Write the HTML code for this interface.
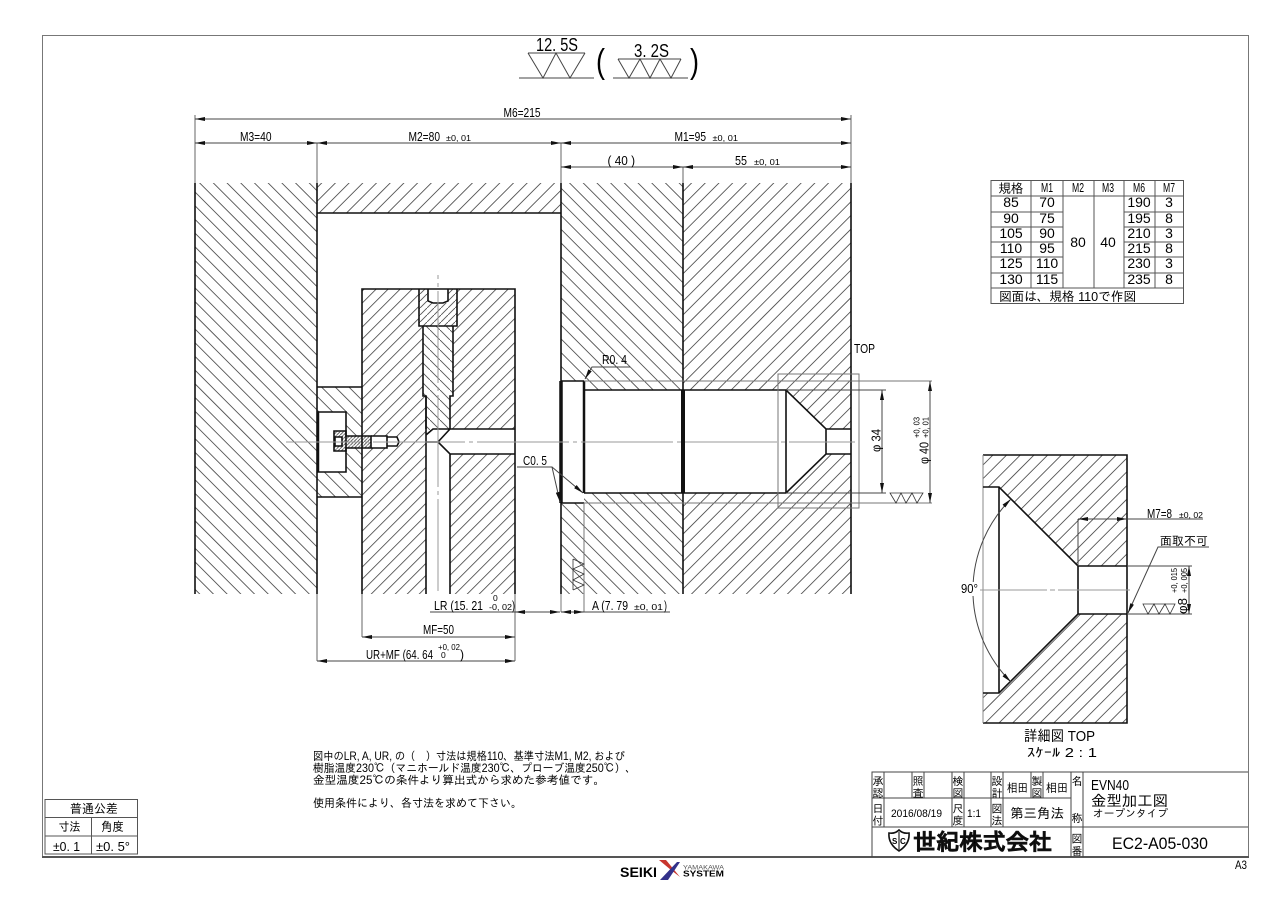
<!DOCTYPE html>
<html lang="ja">
<head>
<meta charset="utf-8">
<title>EC2-A05-030</title>
<style>
html,body{margin:0;padding:0;background:#fff;width:1280px;height:905px;overflow:hidden}
svg{display:block}
text{font-family:"Liberation Sans","IPAGothic","Noto Sans CJK JP",sans-serif;fill:#000}
.k{font-size:11px}
.d{font-size:13px}
.s{font-size:8.5px}
.o{fill:none;stroke:#111;stroke-width:1.6}
.t{fill:none;stroke:#333;stroke-width:.8}
.g{fill:none;stroke:#777;stroke-width:1}
.c{fill:none;stroke:#999;stroke-width:1;stroke-dasharray:92 4 4 4}
.m{fill:none;stroke:#444;stroke-width:1}
.f{fill:none;stroke:#666;stroke-width:1}
</style>
</head>
<body>
<svg width="1280" height="905" viewBox="0 0 1280 905" xmlns="http://www.w3.org/2000/svg">
<defs>
<marker id="a" markerWidth="10" markerHeight="4" refX="10" refY="2" orient="auto-start-reverse" markerUnits="userSpaceOnUse"><path d="M0 0L10 2 0 4z" fill="#111"/></marker>
<clipPath id="cb"><rect x="195" y="183" width="122" height="411"/><rect x="561" y="183" width="122" height="411"/><rect x="317" y="387" width="45" height="110"/></clipPath>
<clipPath id="cf"><rect x="317" y="183" width="244" height="30"/><rect x="683" y="183" width="168" height="411"/></clipPath>
<clipPath id="cd"><rect x="983" y="455" width="144" height="268"/></clipPath>
<clipPath id="ci"><rect x="362" y="289" width="153" height="305"/></clipPath>
<pattern id="hs" width="10" height="10" patternUnits="userSpaceOnUse"><path d="M-1-1L11 11" stroke="#555" stroke-width=".9"/></pattern>
<pattern id="hp" width="7" height="7" patternUnits="userSpaceOnUse"><path d="M8-1L-1 8" stroke="#555" stroke-width=".9"/></pattern>
<pattern id="hv" width="3.4" height="3.4" patternUnits="userSpaceOnUse"><path d="M4.4-1L-1 4.4" stroke="#444" stroke-width=".8"/></pattern>
</defs>

<rect width="1280" height="905" fill="#fff"/>
<!-- frame -->
<path d="M42.500 857V35.500H1248.500V857" fill="none" stroke="#777" stroke-width="1"/>
<path d="M42 857H1249" stroke="#555" stroke-width="2"/>

<!-- main hatches -->
<line x1="0" y1="408.64" x2="544.3" y2="-135.66" stroke="#555" stroke-width="1600" stroke-dasharray=".9 8.787" clip-path="url(#cb)"/>
<line x1="176.68" y1="176.68" x2="950" y2="950" stroke="#555" stroke-width="1600" stroke-dasharray=".9 8.787" clip-path="url(#cf)"/>
<line x1="176.68" y1="176.68" x2="950" y2="950" stroke="#555" stroke-width="1600" stroke-dasharray=".9 8.787" stroke-dashoffset="1.41" clip-path="url(#cd)"/>
<line x1="170.33" y1="170.33" x2="700" y2="700" stroke="#555" stroke-width="1600" stroke-dasharray=".9 7.585" clip-path="url(#ci)"/>

<!-- inner white / sub parts -->
<rect x="419" y="289" width="38" height="37" fill="#fff"/>
<rect x="419" y="289" width="38" height="37" fill="url(#hp)"/>
<rect x="428" y="289" width="20" height="14" fill="#fff"/>
<polygon points="423,326 453,326 453,396 450,396 450,429 433,429 426,435 426,396 423,396" fill="#fff"/>
<polygon points="423,326 453,326 453,396 450,396 450,429 433,429 426,435 426,396 423,396" fill="url(#hs)"/>
<polygon points="426,435 433,429 515,429 515,454 450,454 438,442 426,442" fill="#fff"/>
<polygon points="426,442 438,442 450,454 450,594 426,594" fill="#fff"/>
<rect x="318" y="412" width="28" height="60" fill="#fff"/>
<rect x="334" y="431" width="12" height="20" fill="#fff"/>
<rect x="334" y="431" width="12" height="20" fill="url(#hv)"/>
<rect x="346" y="436" width="25" height="12" fill="#fff"/>
<rect x="346" y="436" width="25" height="12" fill="url(#hv)"/>
<polygon points="371,436 387,436 387,437 397,437 399,442 397,446 387,446 387,448 371,448" fill="#fff"/>
<rect x="335" y="437" width="7" height="9" fill="#fff"/>

<!-- right bore -->
<rect x="561" y="381" width="23" height="122" fill="#fff"/>
<polygon points="584,390 786,390 826,429 851,429 851,454 826,454 786,493 584,493" fill="#fff"/>

<!-- outlines -->
<path class="o" d="M195 183V594M317 183V594M561 183V594M683 183V594M851 183V594"/>
<path class="o" d="M317 213H561"/>
<path class="o" d="M362 594V289H515V594"/>
<path class="o" d="M419 289V326H457V289M428 289V301L433 303H443L448 301V289"/>
<path class="o" d="M423 326V396H426V429M453 326V396H450V429"/>
<path class="o" d="M426 396V435L433 429H515M450 429L438 442L450 454H515M426 442H438M426 435V594M450 454V594"/>
<path class="o" d="M317 387H362M317 497H362M346 412H318V472H346Z"/>
<path class="o" d="M334 431H346V436H371V448H346V451H334Z" stroke-width="1.300"/>
<path class="o" d="M335 437H342V446H335ZM371 436H387V448H371M387 437H397L399 442L397 446H387" stroke-width="1"/>
<path d="M318 412V472" stroke="#111" stroke-width="2.500"/>

<path d="M561 381V503" stroke="#111" stroke-width="3.500"/>
<path d="M584 381V493" stroke="#111" stroke-width="2.500"/>
<path d="M683 390V493" stroke="#111" stroke-width="4"/>
<path class="o" d="M561 381H584M561 503H584" stroke-width="2"/>
<path class="o" d="M584 390H786L826 429H851M584 493H786L826 454H851M786 390V493M826 429V454" stroke-width="1.800"/>
<path class="g" d="M584 381H932M584 503H932M778 374H859V508H778Z"/>
<path class="m" d="M786 390H886M786 493H886"/>
<path class="g" d="M584 503V612M561 594V612"/>

<!-- centre lines -->
<path class="c" d="M286 442H855" stroke-dashoffset="17"/>
<path class="c" d="M438 275V594" stroke-dashoffset="88"/>

<!-- top surface marks -->
<text x="536" y="51" font-size="18" textLength="42" lengthAdjust="spacingAndGlyphs">12. 5S</text>
<path class="m" d="M519 78H594M528 53H585M528 53L543 78L556 53L570 78L585 53"/>
<text x="634" y="57" font-size="18" textLength="35" lengthAdjust="spacingAndGlyphs">3. 2S</text>
<path class="m" d="M613 78H688M618 59H681M618 59L629 78L640 59L650 78L660 59L671 78L681 59"/>
<text x="596" y="73" font-size="34" textLength="9" lengthAdjust="spacingAndGlyphs">(</text>
<text x="690" y="73" font-size="34" textLength="9" lengthAdjust="spacingAndGlyphs">)</text>

<!-- dimensions top -->
<path class="f" d="M195 115V183M851 115V183M317 143V183M561 143V183M683 167V183"/>
<path class="m" d="M195 119H851" marker-start="url(#a)" marker-end="url(#a)"/>
<path class="m" d="M195 143H317" marker-start="url(#a)" marker-end="url(#a)"/>
<path class="m" d="M317 143H561" marker-start="url(#a)" marker-end="url(#a)"/>
<path class="m" d="M561 143H851" marker-start="url(#a)" marker-end="url(#a)"/>
<path class="m" d="M561 167H683" marker-start="url(#a)" marker-end="url(#a)"/>
<path class="m" d="M683 167H851" marker-start="url(#a)" marker-end="url(#a)"/>
<text class="d" x="503.500" y="117" textLength="37" lengthAdjust="spacingAndGlyphs">M6=215</text>
<text class="d" x="240" y="141" textLength="31.500" lengthAdjust="spacingAndGlyphs">M3=40</text>
<text class="d" x="408.500" y="141" textLength="31.500" lengthAdjust="spacingAndGlyphs">M2=80</text>
<text class="s" x="446" y="141" textLength="25" lengthAdjust="spacingAndGlyphs">±0, 01</text>
<text class="d" x="674.500" y="141" textLength="31.500" lengthAdjust="spacingAndGlyphs">M1=95</text>
<text class="s" x="712.500" y="141" textLength="25.500" lengthAdjust="spacingAndGlyphs">±0, 01</text>
<text class="d" x="607.500" y="165" textLength="27.500" lengthAdjust="spacingAndGlyphs">( 40 )</text>
<text class="d" x="735" y="165" textLength="12" lengthAdjust="spacingAndGlyphs">55</text>
<text class="s" x="754" y="165" textLength="26" lengthAdjust="spacingAndGlyphs">±0, 01</text>

<!-- table -->
<path d="M991 180.500H1183.500V303.500H991ZM991 196H1183.500M991 212H1063M1124 212H1183.500M991 227H1063M1124 227H1183.500M991 242H1063M1124 242H1183.500M991 257H1063M1124 257H1183.500M991 273H1063M1124 273H1183.500M991 288H1183.500M1031 180V288M1063 180V288M1094 180V288M1124 180V288M1155 180V288" fill="none" stroke="#555" stroke-width="1"/>
<g text-anchor="middle" font-size="14">
<text x="1011" y="193" font-size="13" textLength="25" lengthAdjust="spacingAndGlyphs">規格</text><text x="1047" y="192" font-size="13" textLength="12" lengthAdjust="spacingAndGlyphs">M1</text><text x="1078" y="192" font-size="13" textLength="12" lengthAdjust="spacingAndGlyphs">M2</text><text x="1108" y="192" font-size="13" textLength="12" lengthAdjust="spacingAndGlyphs">M3</text><text x="1139" y="192" font-size="13" textLength="12" lengthAdjust="spacingAndGlyphs">M6</text><text x="1169" y="192" font-size="13" textLength="12" lengthAdjust="spacingAndGlyphs">M7</text>
<text x="1011" y="207">85</text><text x="1047" y="207">70</text><text x="1139" y="207">190</text><text x="1169" y="207">3</text>
<text x="1011" y="223">90</text><text x="1047" y="223">75</text><text x="1139" y="223">195</text><text x="1169" y="223">8</text>
<text x="1011" y="238">105</text><text x="1047" y="238">90</text><text x="1139" y="238">210</text><text x="1169" y="238">3</text>
<text x="1011" y="253">110</text><text x="1047" y="253">95</text><text x="1139" y="253">215</text><text x="1169" y="253">8</text>
<text x="1011" y="268">125</text><text x="1047" y="268">110</text><text x="1139" y="268">230</text><text x="1169" y="268">3</text>
<text x="1011" y="284">130</text><text x="1047" y="284">115</text><text x="1139" y="284">235</text><text x="1169" y="284">8</text>
<text x="1078" y="247">80</text><text x="1108" y="247">40</text>
</g>
<text x="999" y="301" font-size="13" textLength="137" lengthAdjust="spacingAndGlyphs">図面は、規格 110で作図</text>

<!-- leaders right -->
<text class="d" x="854" y="353" font-size="14" textLength="21" lengthAdjust="spacingAndGlyphs">TOP</text>
<text class="d" x="602" y="364" textLength="25" lengthAdjust="spacingAndGlyphs">R0. 4</text>
<path class="m" d="M630 367H592L585 379" marker-end="url(#a)"/>
<text class="d" x="523" y="465" textLength="24" lengthAdjust="spacingAndGlyphs">C0. 5</text>
<path class="m" d="M517 467H552L560 502" marker-end="url(#a)"/>
<path class="m" d="M552 467L583 493" marker-end="url(#a)"/>

<path class="m" d="M882 390V493" marker-start="url(#a)" marker-end="url(#a)"/>
<path class="m" d="M930 381V503" marker-start="url(#a)" marker-end="url(#a)"/>
<path class="t" d="M890 493L896 503L901 493L906 503L912 493L917 503L923 493Z"/>
<text class="d" transform="translate(880.500 452) rotate(-90)" textLength="23" lengthAdjust="spacingAndGlyphs">φ 34</text>
<text class="d" transform="translate(928.500 464) rotate(-90)" textLength="22" lengthAdjust="spacingAndGlyphs">φ 40</text>
<text class="s" transform="translate(919.500 438) rotate(-90)" textLength="21" lengthAdjust="spacingAndGlyphs">+0, 03</text>
<text class="s" transform="translate(928.500 438) rotate(-90)" textLength="21" lengthAdjust="spacingAndGlyphs">+0, 01</text>

<!-- rotated surface symbol -->
<path class="t" d="M573 559V590M573 559L584 564L573 569L584 574L573 580L584 585L573 590"/>

<!-- bottom dims -->
<path class="f" d="M317 594V661M362 594V637M515 594V661"/>
<path class="m" d="M430 612H515" />
<path class="m" d="M515 612H560" marker-start="url(#a)" marker-end="url(#a)"/>
<path class="m" d="M561 612H584" marker-start="url(#a)" marker-end="url(#a)"/>
<path class="m" d="M584 612H670"/>
<path class="m" d="M362 637H515" marker-start="url(#a)" marker-end="url(#a)"/>
<path class="m" d="M317 661H515" marker-start="url(#a)" marker-end="url(#a)"/>
<text class="d" x="434" y="610" textLength="49" lengthAdjust="spacingAndGlyphs">LR (15. 21</text>
<text class="s" x="493" y="601">0</text>
<text class="s" x="489" y="610" textLength="23" lengthAdjust="spacingAndGlyphs">-0, 02</text>
<text class="d" x="512" y="610" textLength="3" lengthAdjust="spacingAndGlyphs">)</text>
<text class="d" x="592" y="610" textLength="36" lengthAdjust="spacingAndGlyphs">A (7. 79</text>
<text class="s" x="634" y="610" textLength="29" lengthAdjust="spacingAndGlyphs">±0, 01</text>
<text class="d" x="664" y="610" textLength="3" lengthAdjust="spacingAndGlyphs">)</text>
<text class="d" x="423" y="634" textLength="31" lengthAdjust="spacingAndGlyphs">MF=50</text>
<text class="d" x="366" y="659" textLength="67" lengthAdjust="spacingAndGlyphs">UR+MF (64. 64</text>
<text class="s" x="438" y="650" textLength="22" lengthAdjust="spacingAndGlyphs">+0, 02</text>
<text class="s" x="441" y="658">0</text>
<text class="d" x="460" y="659" textLength="4" lengthAdjust="spacingAndGlyphs">)</text>

<!-- detail view -->
<polygon points="983,487 999,487 1078,566 1127,566 1127,614 1078,614 999,693 983,693" fill="#fff"/>
<path class="o" d="M983 455H1127V723H983"/>
<path d="M983 455V723" stroke="#888" stroke-width="1"/>
<path class="o" d="M983 487H999L1078 566H1127M983 693H999L1078 614H1127M999 487V693M1078 566V614" stroke-width="1.800"/>
<path class="c" d="M975 590H1133" style="stroke-dasharray:72 3 5 3"/>
<path class="m" d="M1078 519V566"/>
<path class="m" d="M1078 519H1127" marker-start="url(#a)" marker-end="url(#a)"/>
<path class="m" d="M1127 519H1203"/>
<text class="d" x="1147" y="518" textLength="25" lengthAdjust="spacingAndGlyphs">M7=8</text>
<text class="s" x="1179" y="518" textLength="24" lengthAdjust="spacingAndGlyphs">±0, 02</text>
<text x="1160" y="545" font-size="12" textLength="48" lengthAdjust="spacingAndGlyphs">面取不可</text>
<path class="m" d="M1209 547H1158L1128 613" marker-end="url(#a)"/>
<path class="m" d="M1127 566H1192M1127 614H1192"/>
<path class="m" d="M1189 566V614" marker-start="url(#a)" marker-end="url(#a)"/>
<path class="t" d="M1143 604H1175L1170 614L1165 604L1159 614L1154 604L1148 614Z"/>
<text class="d" transform="translate(1187 614) rotate(-90)" textLength="16" lengthAdjust="spacingAndGlyphs">φ8</text>
<text class="s" transform="translate(1177 593) rotate(-90)" textLength="25" lengthAdjust="spacingAndGlyphs">+0, 015</text>
<text class="s" transform="translate(1187 593) rotate(-90)" textLength="25" lengthAdjust="spacingAndGlyphs">+0, 005</text>
<path class="m" d="M1011 499A129 129 0 0 0 1011 682" marker-start="url(#a)" marker-end="url(#a)"/>
<rect x="960" y="582" width="20" height="14" fill="#fff"/>
<text class="d" x="961" y="593" textLength="17" lengthAdjust="spacingAndGlyphs">90°</text>
<text x="1024" y="741" font-size="15" textLength="71" lengthAdjust="spacingAndGlyphs">詳細図 TOP</text>
<text x="1027" y="757" font-size="13" textLength="70" lengthAdjust="spacingAndGlyphs">ｽｹｰﾙ 2 : 1</text>

<!-- notes -->
<text x="313" y="760" font-size="11.500" textLength="312" lengthAdjust="spacingAndGlyphs">図中のLR, A, UR, の（　）寸法は規格110、基準寸法M1, M2, および</text>
<text x="313" y="772" font-size="11.500" textLength="323" lengthAdjust="spacingAndGlyphs">樹脂温度230℃（マニホールド温度230℃、プローブ温度250℃）、</text>
<text x="313" y="784" font-size="11.500" textLength="292" lengthAdjust="spacingAndGlyphs">金型温度25℃の条件より算出式から求めた参考値です。</text>
<text x="313" y="807" font-size="11.500" textLength="209" lengthAdjust="spacingAndGlyphs">使用条件により、各寸法を求めて下さい。</text>

<!-- general tolerance -->
<path d="M45 799.500H137.500V854H45ZM45 817.500H137.500M45 836H137.500M91.500 817.500V854" fill="none" stroke="#555" stroke-width="1"/>
<text x="70" y="813" font-size="12.500" textLength="48" lengthAdjust="spacingAndGlyphs">普通公差</text>
<text x="58.500" y="831" font-size="12.500" textLength="22" lengthAdjust="spacingAndGlyphs">寸法</text>
<text x="101" y="831" font-size="12.500" textLength="23" lengthAdjust="spacingAndGlyphs">角度</text>
<text x="53" y="851" font-size="13" textLength="27" lengthAdjust="spacingAndGlyphs">±0. 1</text>
<text x="96" y="851" font-size="13" textLength="34" lengthAdjust="spacingAndGlyphs">±0. 5°</text>

<!-- title block -->
<path d="M872 857V772H1248M872 798H1071M872 827H1248M884 772V827M912 772V798M924 772V798M952 772V827M964 772V827M991 772V827M1003 772V827M1031 772V798M1043 772V798M1071 772V857M1083 772V857" fill="none" stroke="#444" stroke-width="1"/>
<g class="k" text-anchor="middle">
<text x="878" y="785">承</text><text x="878" y="797">認</text>
<text x="918" y="785">照</text><text x="918" y="797">査</text>
<text x="958" y="785">検</text><text x="958" y="797">図</text>
<text x="997" y="785">設</text><text x="997" y="797">計</text>
<text x="1037" y="785">製</text><text x="1037" y="797">図</text>
<text x="1077" y="785">名</text><text x="1077" y="822">称</text>
<text x="878" y="812.500">日</text><text x="878" y="824.500">付</text>
<text x="958" y="812.500">尺</text><text x="958" y="824.500">度</text>
<text x="997" y="812.500">図</text><text x="997" y="824.500">法</text>
<text x="1077" y="842.500">図</text><text x="1077" y="855">番</text>
</g>
<text x="1007" y="792" font-size="12" textLength="21" lengthAdjust="spacingAndGlyphs">相田</text>
<text x="1046" y="792" font-size="12" textLength="22" lengthAdjust="spacingAndGlyphs">相田</text>
<text x="891" y="817" font-size="11" textLength="51" lengthAdjust="spacingAndGlyphs">2016/08/19</text>
<text x="967" y="817" font-size="11" textLength="14" lengthAdjust="spacingAndGlyphs">1:1</text>
<text x="1010" y="818" font-size="13.500" textLength="54" lengthAdjust="spacingAndGlyphs">第三角法</text>
<text x="1091" y="790" font-size="15" textLength="38" lengthAdjust="spacingAndGlyphs">EVN40</text>
<text x="1091" y="806" font-size="15" textLength="77" lengthAdjust="spacingAndGlyphs">金型加工図</text>
<text x="1093" y="817" font-size="10.500" textLength="75" lengthAdjust="spacingAndGlyphs">オープンタイプ</text>
<text x="1112" y="849" font-size="17" textLength="96" lengthAdjust="spacingAndGlyphs">EC2-A05-030</text>
<text x="913" y="850" font-size="23" font-weight="bold" stroke="#111" stroke-width=".5" textLength="139" lengthAdjust="spacingAndGlyphs">世紀株式会社</text>
<path d="M889 833Q895 834 899 830Q903 834 909 833Q910 844 899 851Q888 844 889 833Z" fill="#fff" stroke="#111" stroke-width="1.600"/>
<path d="M899 832V850" stroke="#555" stroke-width="1.500"/>
<text x="892" y="844" font-size="8" font-weight="bold">S</text>
<text x="900" y="844" font-size="8" font-weight="bold">C</text>
<text x="1235" y="869" font-size="12" textLength="12" lengthAdjust="spacingAndGlyphs">A3</text>

<!-- footer logo -->
<text x="620" y="877" font-size="14" font-weight="bold" textLength="37" lengthAdjust="spacingAndGlyphs">SEIKI</text>
<path d="M659 860L666 860L680 877L671 870Z" fill="#c8362e"/>
<path d="M660 880L677 862L680 862L668 880Z" fill="#33318a"/>
<text x="683" y="869.500" font-size="6" fill="#555" style="fill:#555" textLength="41" lengthAdjust="spacingAndGlyphs">YAMAKAWA</text>
<text x="683" y="876.500" font-size="8" font-weight="bold" textLength="41" lengthAdjust="spacingAndGlyphs">SYSTEM</text>
</svg>
</body>
</html>
